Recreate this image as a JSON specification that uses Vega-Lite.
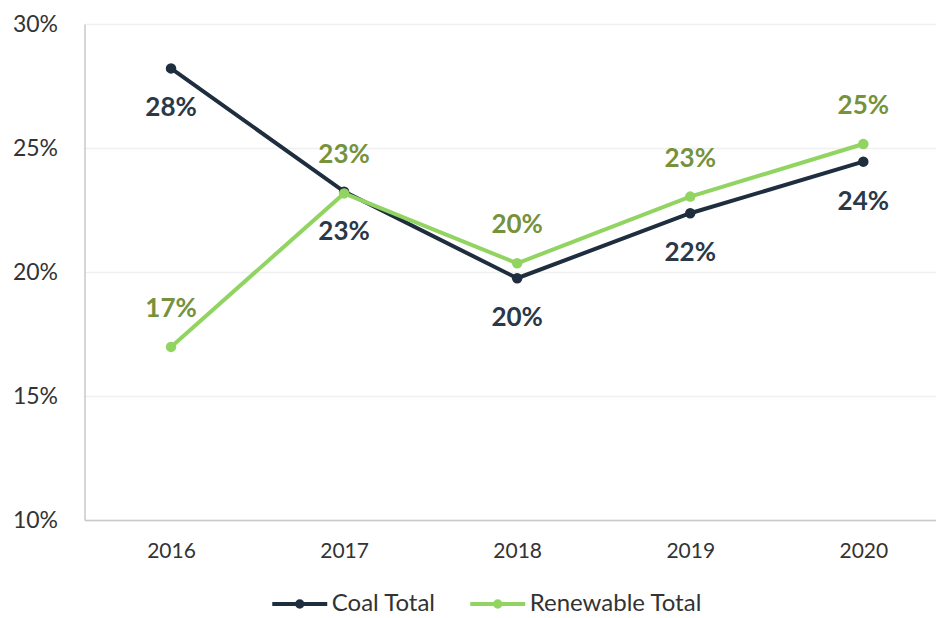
{
  "$schema": "https://vega.github.io/schema/vega-lite/v6.json",
  "autosize": {"type": "none"},
  "width": 851.5,
  "height": 496,
  "padding": {"left": 84.5, "top": 24, "right": 0, "bottom": 98},
  "background": "white",
  "config": {
    "font": "Lato",
    "view": {"stroke": null},
    "axis": {"labelFont": "Lato", "labelColor": "#333333", "domainColor": "#c8c8c8", "domainWidth": 1.5, "ticks": false, "title": null}
  },
  "data": {
    "values": [
      {"year": 2016, "series": "Coal Total", "value": 0.2821},
      {"year": 2017, "series": "Coal Total", "value": 0.2324},
      {"year": 2018, "series": "Coal Total", "value": 0.1975},
      {"year": 2019, "series": "Coal Total", "value": 0.2237},
      {"year": 2020, "series": "Coal Total", "value": 0.2445},
      {"year": 2016, "series": "Renewable Total", "value": 0.1698},
      {"year": 2017, "series": "Renewable Total", "value": 0.2317},
      {"year": 2018, "series": "Renewable Total", "value": 0.2035},
      {"year": 2019, "series": "Renewable Total", "value": 0.2304},
      {"year": 2020, "series": "Renewable Total", "value": 0.2516}
    ]
  },
  "encoding": {
    "x": {
      "field": "year", "type": "quantitative",
      "scale": {"domain": [2015.5, 2020.42], "nice": false, "zero": false},
      "axis": {"values": [2016, 2017, 2018, 2019, 2020], "format": "d", "grid": false, "labelFontSize": 21, "labelPadding": 20}
    },
    "y": {
      "field": "value", "type": "quantitative",
      "scale": {"domain": [0.1, 0.3], "nice": false, "zero": false},
      "axis": {"values": [0.1, 0.15, 0.2, 0.25, 0.3], "format": ".0%", "grid": true, "gridColor": "#f0f0f0", "gridWidth": 1.5, "labelFontSize": 23, "labelPadding": 27}
    }
  },
  "layer": [
    {
      "mark": {"type": "line", "strokeWidth": 4, "point": {"size": 110, "filled": true}},
      "encoding": {
        "color": {
          "field": "series", "type": "nominal",
          "scale": {"domain": ["Coal Total", "Renewable Total"], "range": ["#1f2e3e", "#92d461"]},
          "legend": {
            "title": null,
            "orient": "none",
            "direction": "horizontal",
            "legendX": 199.25,
            "legendY": 564,
            "symbolType": "M-2,0L2,0M0.2,0A0.2,0.2 0 1,1 -0.2,0A0.2,0.2 0 1,1 0.2,0",
            "symbolSize": 756,
            "symbolStrokeWidth": 4,
            "labelFontSize": 24,
            "labelLimit": 400,
            "labelColor": "#333333",
            "labelOffset": 16,
            "columnPadding": 26
          }
        }
      }
    },
    {
      "transform": [{"filter": "datum.series === 'Coal Total'"}],
      "mark": {"type": "text", "dy": 40, "fontSize": 26, "fontWeight": "bold", "color": "#2a3848"},
      "encoding": {"text": {"field": "value", "type": "quantitative", "format": ".0%"}}
    },
    {
      "transform": [{"filter": "datum.series === 'Renewable Total'"}],
      "mark": {"type": "text", "dy": -38, "fontSize": 26, "fontWeight": "bold", "color": "#76923c"},
      "encoding": {"text": {"field": "value", "type": "quantitative", "format": ".0%"}}
    }
  ]
}
